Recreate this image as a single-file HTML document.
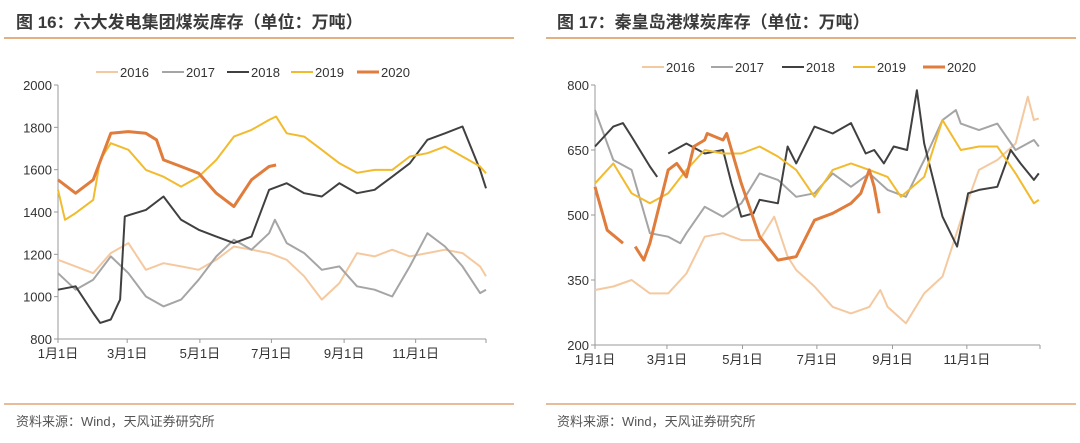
<!DOCTYPE html>
<html><head><meta charset="utf-8">
<style>
body{margin:0;background:#fff;width:1080px;height:438px;overflow:hidden;font-family:"Liberation Sans","Noto Sans CJK SC",sans-serif;}
svg text{font-family:"Liberation Sans","Noto Sans CJK SC",sans-serif;}
</style></head>
<body>
<svg id="chart" width="1080" height="438" xmlns="http://www.w3.org/2000/svg">
<text x="16" y="28" font-size="17" font-weight="bold" fill="#3a3a3a">图 16：六大发电集团煤炭库存（单位：万吨）</text>
<line x1="4" y1="38" x2="514" y2="38" stroke="#d9955a" stroke-width="1.5"/>
<text x="557" y="28" font-size="17" font-weight="bold" fill="#3a3a3a">图 17：秦皇岛港煤炭库存（单位：万吨）</text>
<line x1="546" y1="38" x2="1076" y2="38" stroke="#d9955a" stroke-width="1.5"/>
<line x1="4" y1="404" x2="514" y2="404" stroke="#d9955a" stroke-width="1.2"/>
<line x1="546" y1="404" x2="1076" y2="404" stroke="#d9955a" stroke-width="1.2"/>
<text x="16" y="426" font-size="13" fill="#555">资料来源：Wind，天风证券研究所</text>
<text x="557" y="426" font-size="13" fill="#555">资料来源：Wind，天风证券研究所</text>
<g id="left"></g><g id="right"></g>
</svg>
<script>
const years = ["2016","2017","2018","2019","2020"];
const monthTickLabels = ["1月1日","3月1日","5月1日","7月1日","9月1日","11月1日"];
const monthTickDays = [0,59,121,182,244,305];
// Left chart (六大发电集团)
const leftYTicks = [800,1000,1200,1400,1600,1800,2000];
const L16d = [0,15,30,45,60,75,90,105,120,135,150,165,180,195,210,225,240,255,270,285,300,315,330,345,360,365];
const L16v = [1174,1143,1111,1206,1253,1127,1158,1143,1127,1174,1237,1222,1206,1174,1096,986,1064,1206,1190,1222,1190,1206,1222,1206,1143,1096];
const L17d = [0,15,30,45,60,75,90,105,120,135,150,165,180,185,195,210,225,240,255,270,285,300,315,330,345,360,365];
const L17v = [1111,1033,1080,1190,1111,1001,954,986,1080,1190,1269,1222,1300,1363,1253,1206,1127,1143,1049,1033,1001,1143,1300,1237,1143,1017,1033];
const L18d = [0,15,30,36,45,53,57,75,90,105,120,135,150,165,180,195,210,225,240,255,270,285,300,315,330,345,360,365];
const L18v = [1033,1049,923,876,892,986,1379,1410,1473,1363,1316,1284,1253,1284,1505,1536,1489,1473,1536,1489,1505,1567,1630,1741,1772,1804,1599,1512];
const L19d = [0,6,15,30,36,45,60,75,90,105,120,135,150,165,180,186,195,210,225,240,255,270,285,300,315,330,345,360,365];
const L19v = [1505,1363,1395,1457,1646,1725,1694,1599,1567,1520,1567,1646,1756,1788,1835,1851,1772,1756,1694,1630,1585,1599,1599,1662,1678,1709,1662,1615,1583];
const L20d = [0,15,30,45,60,75,84,90,105,120,135,150,165,180,186];
const L20v = [1552,1489,1552,1772,1780,1772,1741,1646,1615,1583,1489,1426,1552,1615,1622];
// Right chart (秦皇岛港)
const rightYTicks = [200,350,500,650,800];
const R16d = [0,15,30,45,60,75,90,105,120,135,147,158,165,180,195,210,225,234,240,255,270,285,300,315,330,345,355,360,364];
const R16v = [327,335,350,319,319,365,450,458,442,442,496,404,373,335,288,273,288,327,288,250,319,358,488,604,627,665,773,719,723];
const R17d = [0,15,30,45,60,70,75,90,105,120,135,150,165,180,195,210,225,240,255,270,285,296,300,315,330,345,360,364];
const R17v = [742,627,604,458,450,435,458,519,496,527,596,581,542,550,596,565,596,558,542,627,719,742,711,696,711,650,673,658];
const R18d = [0,15,23,30,45,51,60,75,90,105,112,120,130,135,150,158,165,180,195,210,222,229,237,245,256,264,270,285,297,306,315,330,341,349,360,364];
const R18v = [658,704,712,681,612,588,642,665,642,650,573,496,504,535,527,658,619,704,688,712,642,650,619,658,650,788,665,496,427,550,558,565,650,619,581,596];
const R19d = [0,15,30,45,60,75,90,105,120,135,150,165,180,195,210,225,240,251,270,285,300,315,330,345,360,364];
const R19v = [573,619,550,527,550,604,650,642,642,658,635,604,542,604,619,604,588,542,588,719,650,658,658,596,527,535];
const R20d = [0,10,23,33,40,45,60,67,75,81,90,92,105,108,120,135,150,165,180,195,210,218,225,229,233];
const R20v = [565,465,435,427,396,435,604,619,588,658,673,688,673,688,573,450,396,404,488,504,527,550,604,565,504];

const colors = {"2016":"#f5c9a0","2017":"#a5a5a5","2018":"#404040","2019":"#f2bb2e","2020":"#e07c3c"};
const widths = {"2016":2,"2017":2,"2018":2,"2019":2,"2020":3};
const NS = "http://www.w3.org/2000/svg";

function mk(tag, attrs, parent){
  const e = document.createElementNS(NS, tag);
  for (const k in attrs) e.setAttribute(k, attrs[k]);
  parent.appendChild(e);
  return e;
}

function drawPanel(g, cfg){
  const xs = d => cfg.x0 + d/365*(cfg.x1-cfg.x0);
  const ys = v => cfg.yb + (v-cfg.ymin)/(cfg.ymax-cfg.ymin)*(cfg.yt-cfg.yb);
  const yAxis = mk("line",{x1:cfg.x0,y1:cfg.yt,x2:cfg.x0,y2:cfg.yb,stroke:"#999","stroke-width":1},g);
  
  
  const xAxis = mk("line",{x1:cfg.x0,y1:cfg.yb,x2:cfg.x1,y2:cfg.yb,stroke:"#999","stroke-width":1},g);
  
  
  cfg.yTicks.forEach(v=>{
    const y = ys(v);
    const t = mk("line",{x1:cfg.x0-4,y1:y,x2:cfg.x0,y2:y,stroke:"#999"},g);
    
    
    const lb = mk("text",{x:cfg.x0-6,y:y+5,"font-size":13,"text-anchor":"end",fill:"#333"},g);
    lb.textContent = v;
    
    
  });
  monthTickDays.forEach((d,i)=>{
    const x = xs(d);
    const t = mk("line",{x1:x,y1:cfg.yb,x2:x,y2:cfg.yb+4,stroke:"#999"},g);
    
    
    const lb = mk("text",{x:x,y:cfg.yb+19,"font-size":13,"text-anchor":"middle",fill:"#333"},g);
    lb.textContent = monthTickLabels[i];
    
    
  });
  const endTick = mk("line",{x1:cfg.x1,y1:cfg.yb,x2:cfg.x1,y2:cfg.yb+4,stroke:"#999"},g);
  
  
  years.forEach((yr,i)=>{
    const [days, vals, gapAfter] = cfg.series[i];
    let d = "";
    days.forEach((dd,j)=>{
      const cmd = (j===0 || (gapAfter!==undefined && j===gapAfter+1)) ? "M" : "L";
      d += cmd + xs(dd).toFixed(1) + "," + ys(vals[j]).toFixed(1) + " ";
    });
    const p = mk("path",{d:d,fill:"none",stroke:colors[yr],"stroke-width":widths[yr],"stroke-linejoin":"round"},g);
    
    
    const lx = cfg.legX[i];
    const ll = mk("line",{x1:lx,y1:cfg.legY,x2:lx+22,y2:cfg.legY,stroke:colors[yr],"stroke-width":widths[yr]},g);
    
    
    const lt = mk("text",{x:lx+24,y:cfg.legY+5,"font-size":13,fill:"#333"},g);
    lt.textContent = yr;
    
    
  });
}

drawPanel(document.getElementById("left"),{
  p:"left", x0:58, x1:486, yt:85, yb:339, ymin:800, ymax:2000, yTicks:leftYTicks,
  legX:[96,162,227,291,357], legY:72,
  series:[[L16d,L16v],[L17d,L17v],[L18d,L18v],[L19d,L19v],[L20d,L20v]]
});
drawPanel(document.getElementById("right"),{
  p:"right", x0:595, x1:1040, yt:85, yb:345, ymin:200, ymax:800, yTicks:rightYTicks,
  legX:[642,711,782,853,923], legY:67,
  series:[[R16d,R16v],[R17d,R17v],[R18d,R18v,5],[R19d,R19v],[R20d,R20v,2]]
});
</script>
</body></html>
